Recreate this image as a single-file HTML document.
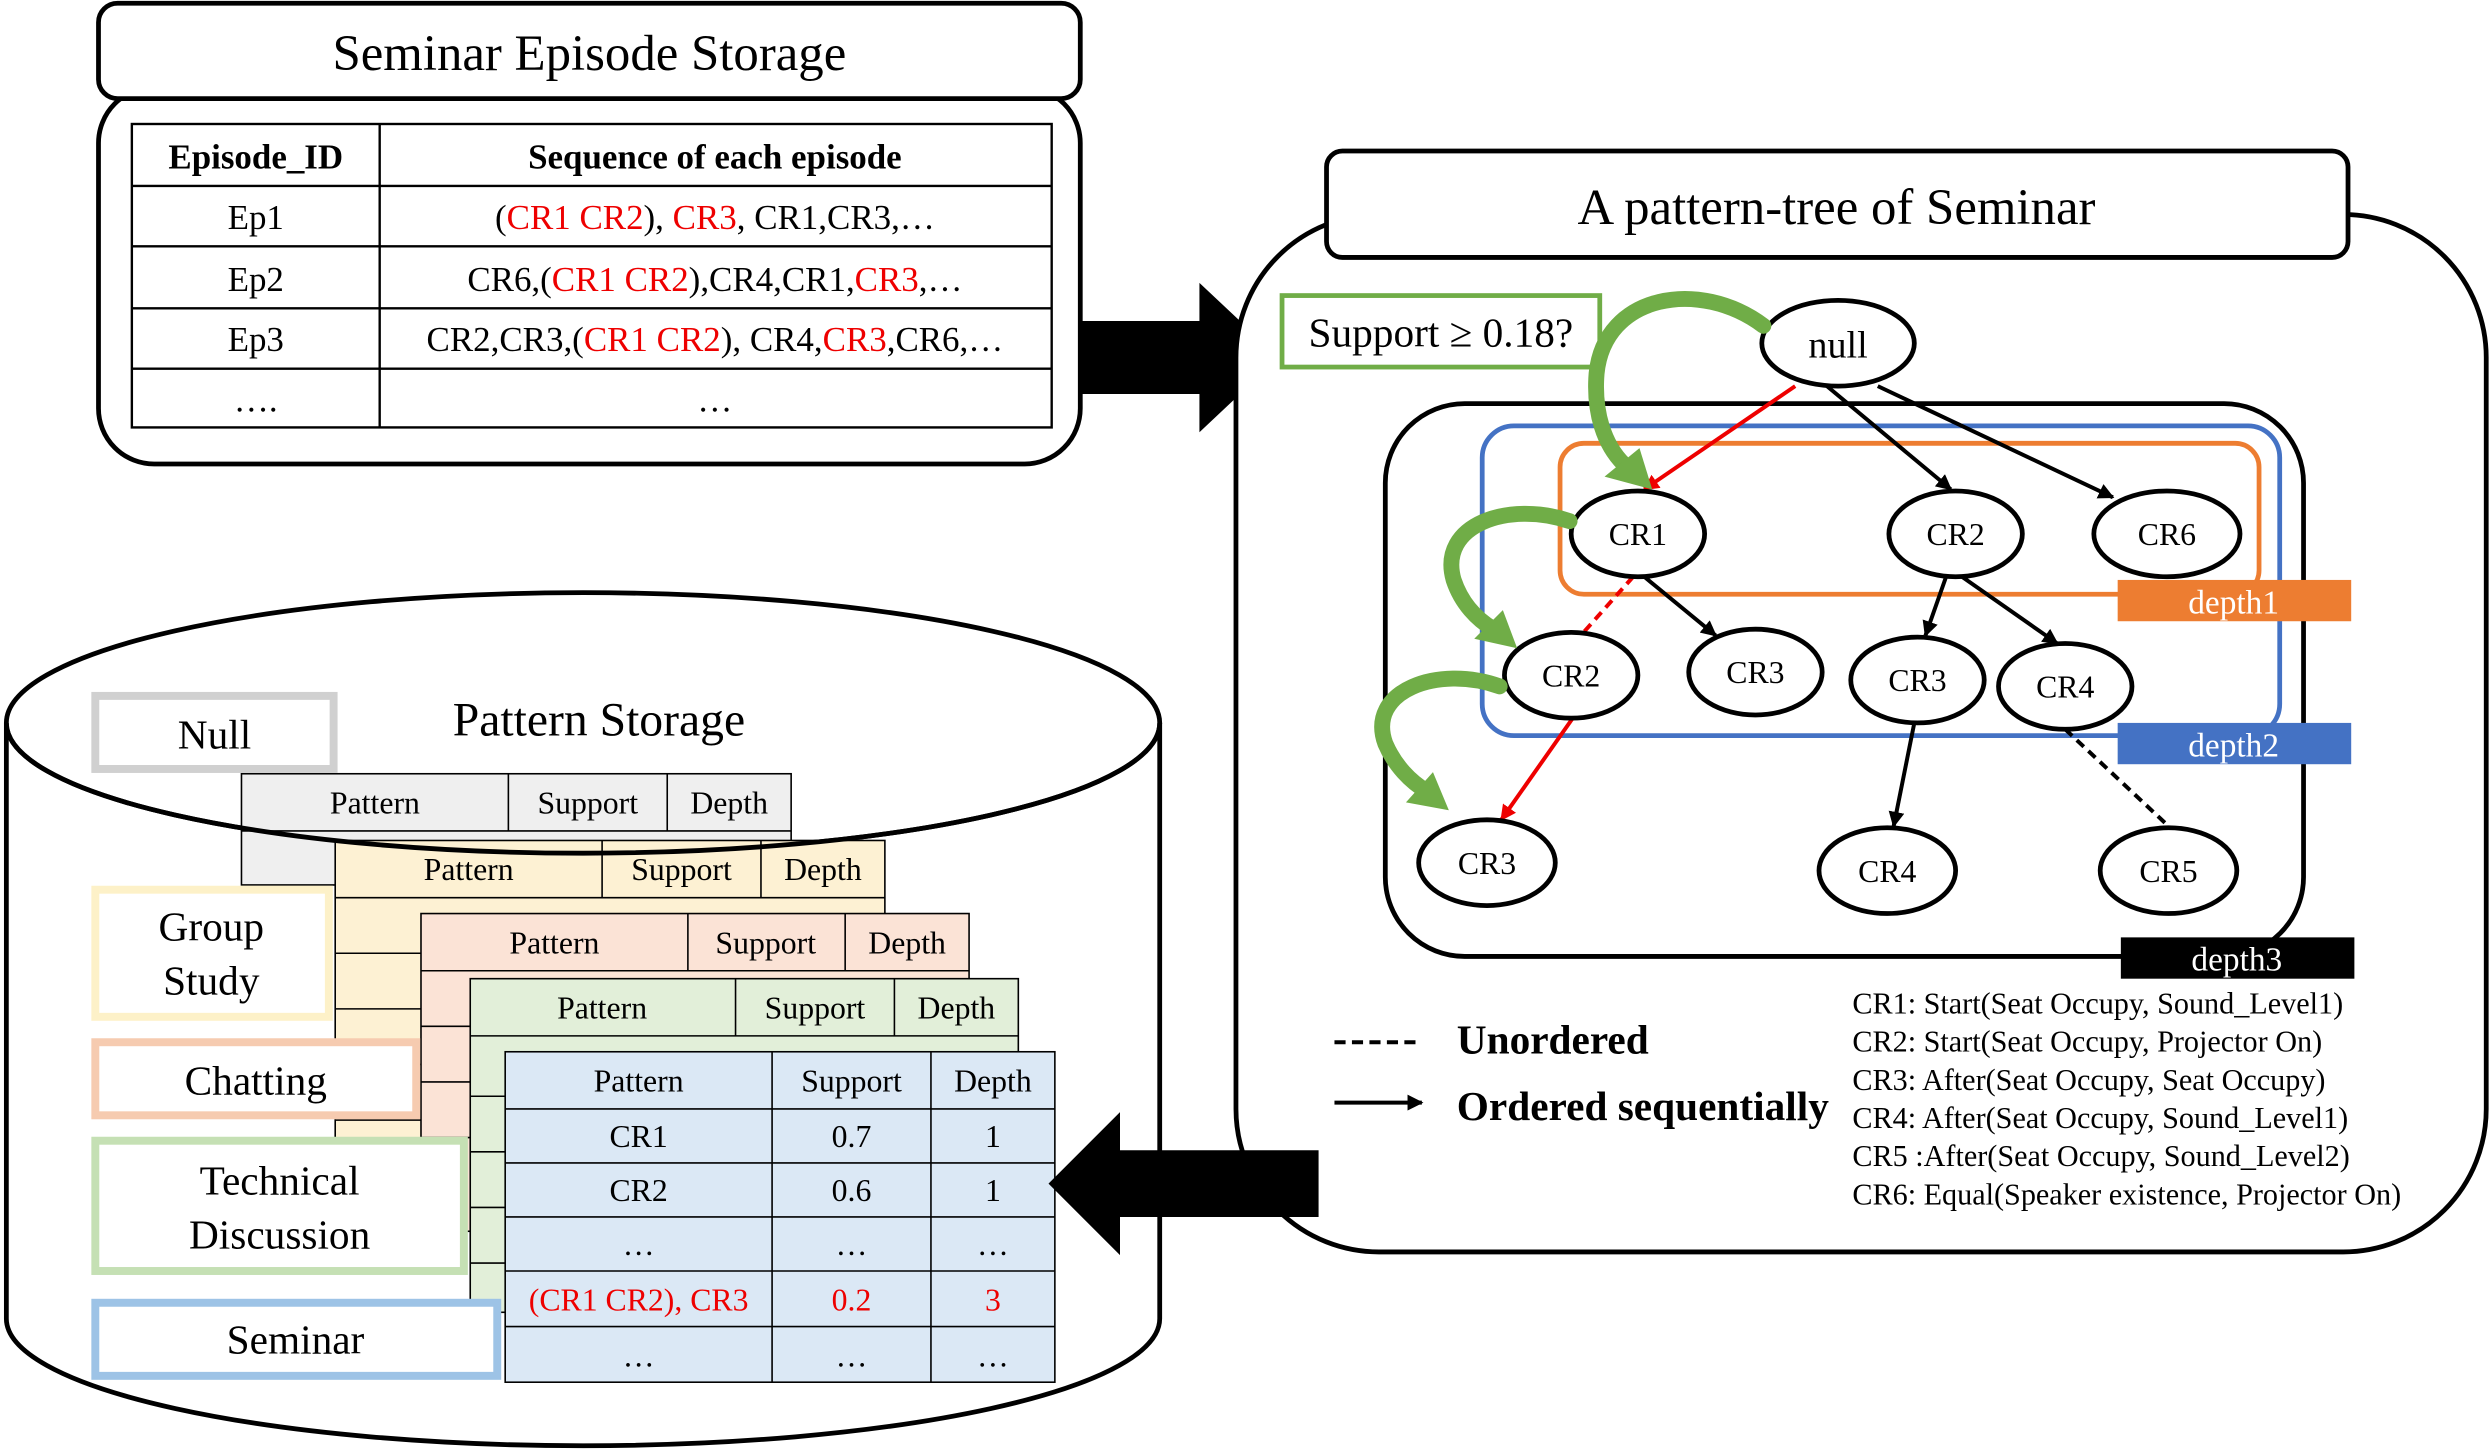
<!DOCTYPE html>
<html><head><meta charset="utf-8"><style>html,body{margin:0;padding:0;background:#fff}svg{display:block}</style></head>
<body>
<svg width="2491" height="1449" viewBox="0 0 1568 912" xmlns="http://www.w3.org/2000/svg" font-family="'Liberation Serif', serif">
<defs>
<marker id="ab" markerWidth="10" markerHeight="10" refX="9" refY="5" orient="auto" markerUnits="userSpaceOnUse"><path d="M0,0 L10,5 L0,10 z" fill="#000"/></marker>
<marker id="ar" markerWidth="10" markerHeight="10" refX="9" refY="5" orient="auto" markerUnits="userSpaceOnUse"><path d="M0,0 L10,5 L0,10 z" fill="#e00"/></marker>
</defs>
<rect width="1568" height="912" fill="#fff"/>
<!-- Episode storage -->
<rect x="62" y="55" width="618" height="237" rx="35" fill="#fff" stroke="#000" stroke-width="3"/>
<rect x="62" y="2" width="618" height="60" rx="12" fill="#fff" stroke="#000" stroke-width="3"/>
<text x="371" y="44" font-size="32" text-anchor="middle">Seminar Episode Storage</text>
<g stroke="#000" stroke-width="1.5" fill="none">
<rect x="83" y="78" width="579" height="191"/>
<line x1="239" y1="78" x2="239" y2="269"/>
<line x1="83" y1="117" x2="662" y2="117"/><line x1="83" y1="155" x2="662" y2="155"/>
<line x1="83" y1="194" x2="662" y2="194"/><line x1="83" y1="232" x2="662" y2="232"/>
</g>
<g font-size="22" text-anchor="middle">
<text x="161" y="106" font-weight="bold">Episode_ID</text><text x="450" y="106" font-weight="bold">Sequence of each episode</text>
<text x="161" y="144">Ep1</text><text x="161" y="183">Ep2</text><text x="161" y="221">Ep3</text><text x="161" y="259">….</text>
<text x="450" y="144">(<tspan fill="#e00">CR1 CR2</tspan>), <tspan fill="#e00">CR3</tspan>, CR1,CR3,…</text>
<text x="450" y="183">CR6,(<tspan fill="#e00">CR1 CR2</tspan>),CR4,CR1,<tspan fill="#e00">CR3</tspan>,…</text>
<text x="450" y="221">CR2,CR3,(<tspan fill="#e00">CR1 CR2</tspan>), CR4,<tspan fill="#e00">CR3</tspan>,CR6,…</text>
<text x="450" y="259">…</text>
</g>
<!-- right arrow -->
<path d="M680,202 L755,202 L755,178 L805,225 L755,272 L755,248 L680,248 z" fill="#000"/>
<!-- right panel -->
<rect x="778" y="135" width="787" height="653" rx="90" fill="#fff" stroke="#000" stroke-width="3"/>
<rect x="835" y="95" width="643" height="67" rx="10" fill="#fff" stroke="#000" stroke-width="3"/>
<text x="1156" y="141" font-size="32" text-anchor="middle">A pattern-tree of Seminar</text>
<rect x="807" y="186" width="200" height="45" fill="#fff" stroke="#70ad47" stroke-width="3"/>
<text x="907" y="218" font-size="26" text-anchor="middle">Support ≥ 0.18?</text>
<rect x="872" y="254" width="578" height="348" rx="50" fill="none" stroke="#000" stroke-width="3"/>
<rect x="933" y="268" width="502" height="195" rx="20" fill="none" stroke="#4472c4" stroke-width="3"/>
<rect x="982" y="279" width="440" height="95" rx="15" fill="none" stroke="#ed7d31" stroke-width="3"/>
<rect x="1333" y="365" width="147" height="26" fill="#ed7d31"/><text x="1406" y="386" font-size="21" fill="#fff" text-anchor="middle">depth1</text>
<rect x="1333" y="455" width="147" height="26" fill="#4472c4"/><text x="1406" y="476" font-size="21" fill="#fff" text-anchor="middle">depth2</text>
<rect x="1335" y="590" width="147" height="26" fill="#000"/><text x="1408" y="611" font-size="21" fill="#fff" text-anchor="middle">depth3</text>
<!-- edges -->
<g stroke-width="2.5">
<line x1="1130" y1="243" x2="1035" y2="308" stroke="#e00" marker-end="url(#ar)"/>
<line x1="1150" y1="243" x2="1228" y2="308" stroke="#000" marker-end="url(#ab)"/>
<line x1="1182" y1="243" x2="1330" y2="313" stroke="#000" marker-end="url(#ab)"/>
<line x1="1028" y1="363" x2="995" y2="400" stroke="#e00" stroke-dasharray="6,4"/>
<line x1="1035" y1="363" x2="1080" y2="400" stroke="#000" marker-end="url(#ab)"/>
<line x1="1225" y1="363" x2="1212" y2="400" stroke="#000" marker-end="url(#ab)"/>
<line x1="1235" y1="363" x2="1295" y2="405" stroke="#000" marker-end="url(#ab)"/>
<line x1="990" y1="452" x2="945" y2="516" stroke="#e00" marker-end="url(#ar)"/>
<line x1="1205" y1="455" x2="1192" y2="520" stroke="#000" marker-end="url(#ab)"/>
<line x1="1300" y1="459" x2="1365" y2="520" stroke="#000" stroke-dasharray="6,4"/>
</g>
<!-- nodes -->
<g fill="#fff" stroke="#000" stroke-width="3">
<ellipse cx="1157" cy="216" rx="48" ry="27"/>
<ellipse cx="1031" cy="336" rx="42" ry="27"/><ellipse cx="1231" cy="336" rx="42" ry="27"/><ellipse cx="1364" cy="336" rx="46" ry="27"/>
<ellipse cx="989" cy="425" rx="42" ry="27"/><ellipse cx="1105" cy="423" rx="42" ry="27"/><ellipse cx="1207" cy="428" rx="42" ry="27"/><ellipse cx="1300" cy="432" rx="42" ry="27"/>
<ellipse cx="936" cy="543" rx="43" ry="27"/><ellipse cx="1188" cy="548" rx="43" ry="27"/><ellipse cx="1365" cy="548" rx="43" ry="27"/>
</g>
<g font-size="20" text-anchor="middle">
<text x="1157" y="225" font-size="24">null</text>
<text x="1031" y="343">CR1</text><text x="1231" y="343">CR2</text><text x="1364" y="343">CR6</text>
<text x="989" y="432">CR2</text><text x="1105" y="430">CR3</text><text x="1207" y="435">CR3</text><text x="1300" y="439">CR4</text>
<text x="936" y="550">CR3</text><text x="1188" y="555">CR4</text><text x="1365" y="555">CR5</text>
</g>
<!-- green curved arrows -->
<g fill="none" stroke="#70ad47" stroke-width="10" stroke-linecap="round">
<path d="M1110,205 C1070,175 1010,185 1005,235 C1003,260 1010,280 1022,292"/>
<path d="M988,328 C950,315 905,330 915,365 C920,380 930,390 940,396"/>
<path d="M944,432 C905,418 860,435 872,468 C878,482 888,492 898,498"/>
</g>
<g fill="#70ad47">
<path d="M1040,308 L1010,300 L1032,282 z"/>
<path d="M955,408 L928,402 L946,384 z"/>
<path d="M912,510 L885,505 L902,486 z"/>
</g>
<!-- legend -->
<line x1="840" y1="656" x2="893" y2="656" stroke="#000" stroke-width="2.5" stroke-dasharray="7,4"/>
<text x="917" y="663" font-size="26" font-weight="bold">Unordered</text>
<line x1="840" y1="694" x2="895" y2="694" stroke="#000" stroke-width="2.5" marker-end="url(#ab)"/>
<text x="917" y="705" font-size="26" font-weight="bold">Ordered sequentially</text>
<g font-size="19">
<text x="1166" y="638">CR1: Start(Seat Occupy, Sound_Level1)</text>
<text x="1166" y="662">CR2: Start(Seat Occupy, Projector On)</text>
<text x="1166" y="686">CR3: After(Seat Occupy, Seat Occupy)</text>
<text x="1166" y="710">CR4: After(Seat Occupy, Sound_Level1)</text>
<text x="1166" y="734">CR5 :After(Seat Occupy, Sound_Level2)</text>
<text x="1166" y="758">CR6: Equal(Speaker existence, Projector On)</text>
</g>
<!-- cylinder -->
<path d="M4,455 L4,830 A363,80 0 0 0 730,830 L730,455" fill="#fff" stroke="#000" stroke-width="3"/>
<ellipse cx="367" cy="455" rx="363" ry="82" fill="#fff" stroke="#000" stroke-width="3"/>
<text x="377" y="463" font-size="30" text-anchor="middle">Pattern Storage</text>
<!-- stacked tables -->
<g stroke="#000" stroke-width="1" font-size="20" text-anchor="middle">
<rect x="152" y="487" width="346" height="70" fill="#efefef"/>
<line x1="320" y1="487" x2="320" y2="523"/><line x1="420" y1="487" x2="420" y2="523"/><line x1="152" y1="523" x2="498" y2="523"/>
<text x="236" y="512" stroke="none">Pattern</text><text x="370" y="512" stroke="none">Support</text><text x="459" y="512" stroke="none">Depth</text>
<rect x="211" y="529" width="346" height="200" fill="#fdf1d3"/>
<line x1="379" y1="529" x2="379" y2="565"/><line x1="479" y1="529" x2="479" y2="565"/>
<line x1="211" y1="565" x2="557" y2="565"/><line x1="211" y1="600" x2="265" y2="600"/><line x1="211" y1="635" x2="265" y2="635"/><line x1="211" y1="670" x2="265" y2="670"/><line x1="211" y1="705" x2="265" y2="705"/>
<text x="295" y="554" stroke="none">Pattern</text><text x="429" y="554" stroke="none">Support</text><text x="518" y="554" stroke="none">Depth</text>
<rect x="265" y="575" width="345" height="200" fill="#fbe3d6"/>
<line x1="433" y1="575" x2="433" y2="611"/><line x1="532" y1="575" x2="532" y2="611"/>
<line x1="265" y1="611" x2="610" y2="611"/><line x1="265" y1="646" x2="296" y2="646"/><line x1="265" y1="681" x2="296" y2="681"/><line x1="265" y1="716" x2="296" y2="716"/>
<text x="349" y="600" stroke="none">Pattern</text><text x="482" y="600" stroke="none">Support</text><text x="571" y="600" stroke="none">Depth</text>
<rect x="296" y="616" width="345" height="210" fill="#e2efd9"/>
<line x1="463" y1="616" x2="463" y2="652"/><line x1="563" y1="616" x2="563" y2="652"/>
<line x1="296" y1="652" x2="641" y2="652"/><line x1="296" y1="690" x2="318" y2="690"/><line x1="296" y1="725" x2="318" y2="725"/><line x1="296" y1="760" x2="318" y2="760"/><line x1="296" y1="795" x2="318" y2="795"/>
<text x="379" y="641" stroke="none">Pattern</text><text x="513" y="641" stroke="none">Support</text><text x="602" y="641" stroke="none">Depth</text>
<rect x="318" y="662" width="346" height="208" fill="#dbe8f5"/>
<line x1="486" y1="662" x2="486" y2="870"/><line x1="586" y1="662" x2="586" y2="870"/>
<line x1="318" y1="698" x2="664" y2="698"/><line x1="318" y1="732" x2="664" y2="732"/><line x1="318" y1="766" x2="664" y2="766"/><line x1="318" y1="800" x2="664" y2="800"/><line x1="318" y1="835" x2="664" y2="835"/>
<g stroke="none">
<text x="402" y="687">Pattern</text><text x="536" y="687">Support</text><text x="625" y="687">Depth</text>
<text x="402" y="722">CR1</text><text x="536" y="722">0.7</text><text x="625" y="722">1</text>
<text x="402" y="756">CR2</text><text x="536" y="756">0.6</text><text x="625" y="756">1</text>
<text x="402" y="790">…</text><text x="536" y="790">…</text><text x="625" y="790">…</text>
<text x="402" y="825" fill="#e00">(CR1 CR2), CR3</text><text x="536" y="825" fill="#e00">0.2</text><text x="625" y="825" fill="#e00">3</text>
<text x="402" y="860">…</text><text x="536" y="860">…</text><text x="625" y="860">…</text>
</g>
</g>
<!-- top ellipse line over tables -->
<path d="M4,455 A363,82 0 0 0 730,455" fill="none" stroke="#000" stroke-width="3"/>
<!-- category labels -->
<g font-size="26" text-anchor="middle" stroke-width="5">
<rect x="60" y="438" width="150" height="46" fill="#fff" stroke="#d0d0d0"/><text x="135" y="471">Null</text>
<rect x="60" y="560" width="147" height="80" fill="#fff" stroke="#fdf1c8"/><text x="133" y="592">Group</text><text x="133" y="626">Study</text>
<rect x="60" y="656" width="202" height="46" fill="#fff" stroke="#f6cbb0"/><text x="161" y="689">Chatting</text>
<rect x="60" y="718" width="232" height="82" fill="#fff" stroke="#c5e0b4"/><text x="176" y="752">Technical</text><text x="176" y="786">Discussion</text>
<rect x="60" y="820" width="253" height="46" fill="#fff" stroke="#9dc3e6"/><text x="186" y="852">Seminar</text>
</g>
<!-- left arrow (on top) -->
<path d="M830,724 L705,724 L705,700 L660,745 L705,790 L705,766 L830,766 z" fill="#000"/>
</svg>
</body></html>
